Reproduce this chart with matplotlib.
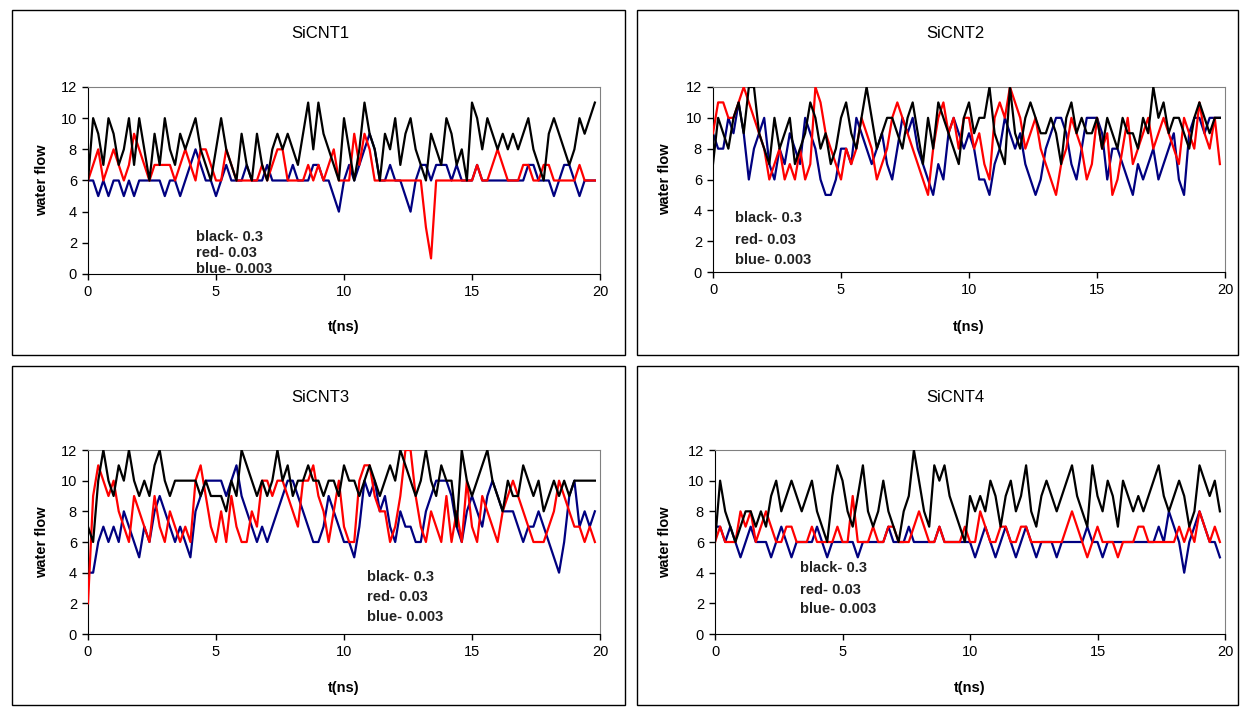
"""Four-panel water flow traces for SiCNT1..SiCNT4."""
import matplotlib
matplotlib.use('Agg')
import matplotlib.pyplot as plt
from matplotlib.patches import Rectangle
import numpy as np

plt.rcParams['font.family'] = ['Liberation Sans', 'DejaVu Sans']

BLACK = '#000000'
RED = '#FF0000'
BLUE = '#000080'
DT = 0.2  # ns between samples

titles = ['SiCNT1', 'SiCNT2', 'SiCNT3', 'SiCNT4']
notes = ['black- 0.3', 'red- 0.03', 'blue- 0.003']

# ── data (one sample per 0.2 ns) ──
black1 = [6, 10, 9, 7, 10, 9, 7, 8, 10, 7, 10, 8, 6, 9, 7, 10, 8, 7, 9, 8, 9, 10, 8, 7, 6,
          8, 10, 8, 7, 6, 9, 7, 6, 9, 7, 6, 8, 9, 8, 9, 8, 7, 9, 11, 8, 11, 9, 8, 7, 6,
          10, 8, 6, 8, 11, 9, 8, 6, 9, 8, 10, 7, 9, 10, 8, 7, 6, 9, 8, 7, 10, 9, 7, 8, 6,
          11, 10, 8, 10, 9, 8, 9, 8, 9, 8, 9, 10, 8, 7, 6, 9, 10, 9, 8, 7, 8, 10, 9, 10, 11]
red1 = [6, 7, 8, 6, 7, 8, 7, 6, 7, 9, 8, 7, 6, 7, 7, 7, 7, 6, 7, 8, 7, 6, 8, 8, 7,
        6, 6, 8, 7, 6, 6, 6, 6, 6, 7, 6, 7, 8, 8, 6, 6, 6, 6, 7, 6, 7, 6, 7, 8, 6,
        6, 6, 9, 7, 9, 8, 6, 6, 6, 6, 6, 6, 6, 6, 6, 6, 3, 1, 6, 6, 6, 6, 6, 6, 6,
        6, 7, 6, 6, 7, 8, 7, 6, 6, 6, 7, 7, 6, 6, 7, 7, 6, 6, 6, 6, 6, 7, 6, 6, 6]
blue1 = [6, 6, 5, 6, 5, 6, 6, 5, 6, 5, 6, 6, 6, 6, 6, 5, 6, 6, 5, 6, 7, 8, 7, 6, 6,
         5, 6, 7, 6, 6, 6, 7, 6, 6, 6, 7, 6, 6, 6, 6, 7, 6, 6, 6, 7, 7, 6, 6, 5, 4,
         6, 7, 6, 7, 8, 9, 8, 6, 6, 7, 6, 6, 5, 4, 6, 7, 7, 6, 7, 7, 7, 6, 7, 6, 6,
         6, 7, 6, 6, 6, 6, 6, 6, 6, 6, 6, 7, 7, 6, 6, 6, 5, 6, 7, 7, 6, 5, 6, 6, 6]

black2 = [7, 10, 9, 8, 10, 11, 9, 12, 12, 9, 8, 7, 10, 8, 9, 10, 7, 8, 9, 11, 10, 8, 9, 7, 8,
          10, 11, 9, 8, 10, 12, 10, 8, 9, 10, 10, 9, 8, 10, 11, 9, 7, 10, 8, 11, 10, 9, 8, 7, 10,
          11, 9, 10, 10, 12, 9, 8, 7, 12, 9, 8, 10, 11, 10, 9, 9, 10, 9, 7, 10, 11, 9, 10, 9, 9,
          10, 8, 10, 9, 8, 10, 9, 9, 8, 10, 9, 12, 10, 11, 9, 10, 10, 9, 8, 10, 11, 10, 9, 10, 10]
red2 = [9, 11, 11, 10, 10, 11, 12, 11, 10, 9, 8, 6, 7, 8, 6, 7, 6, 8, 6, 7, 12, 11, 9, 8, 7,
        6, 8, 7, 8, 10, 9, 8, 6, 7, 8, 10, 11, 10, 9, 8, 7, 6, 5, 8, 10, 11, 9, 10, 8, 10,
        10, 8, 9, 7, 6, 10, 11, 10, 12, 11, 10, 8, 9, 10, 8, 7, 6, 5, 7, 8, 10, 9, 8, 6, 7,
        10, 8, 9, 5, 6, 8, 10, 7, 8, 9, 10, 8, 9, 10, 9, 8, 7, 10, 9, 8, 11, 9, 8, 10, 7]
blue2 = [9, 8, 8, 10, 9, 11, 9, 6, 8, 9, 10, 7, 6, 8, 7, 9, 8, 7, 10, 9, 8, 6, 5, 5, 6,
         8, 8, 7, 10, 9, 8, 7, 8, 9, 7, 6, 8, 10, 9, 10, 8, 7, 6, 5, 7, 6, 9, 10, 9, 8,
         9, 8, 6, 6, 5, 7, 8, 10, 9, 8, 9, 7, 6, 5, 6, 8, 9, 10, 10, 9, 7, 6, 8, 10, 10,
         10, 9, 6, 8, 8, 7, 6, 5, 7, 6, 7, 8, 6, 7, 8, 9, 6, 5, 9, 10, 10, 9, 10, 10, 10]

black3 = [7, 6, 10, 12, 10, 9, 11, 10, 12, 10, 9, 10, 9, 11, 12, 10, 9, 10, 10, 10, 10, 10, 9, 10, 9,
          9, 9, 8, 10, 9, 12, 11, 10, 9, 10, 9, 10, 12, 10, 11, 9, 10, 10, 11, 10, 10, 9, 10, 10, 9,
          11, 10, 10, 9, 10, 11, 10, 9, 10, 11, 10, 12, 11, 10, 9, 10, 12, 10, 9, 11, 10, 10, 7, 12, 10,
          9, 10, 11, 12, 10, 9, 8, 10, 9, 9, 11, 10, 9, 10, 8, 9, 10, 9, 10, 9, 10, 10, 10, 10, 10]
red3 = [2, 9, 11, 10, 9, 10, 8, 7, 6, 9, 8, 7, 6, 9, 7, 6, 8, 7, 6, 7, 6, 10, 11, 9, 7,
        6, 8, 6, 9, 7, 6, 6, 8, 7, 10, 10, 9, 10, 10, 9, 8, 7, 10, 10, 11, 9, 8, 6, 8, 10,
        7, 6, 6, 10, 11, 11, 9, 8, 8, 6, 7, 9, 12, 12, 9, 7, 6, 8, 7, 6, 9, 6, 8, 6, 10,
        7, 6, 9, 8, 7, 6, 8, 9, 10, 9, 8, 7, 6, 6, 6, 7, 8, 10, 9, 8, 7, 7, 6, 7, 6]
blue3 = [4, 4, 6, 7, 6, 7, 6, 8, 7, 6, 5, 7, 6, 8, 9, 8, 7, 6, 7, 6, 5, 8, 9, 10, 10,
         10, 10, 9, 10, 11, 9, 8, 7, 6, 7, 6, 7, 8, 9, 10, 10, 9, 8, 7, 6, 6, 7, 9, 8, 7,
         6, 6, 5, 7, 10, 9, 10, 8, 9, 7, 6, 8, 7, 7, 6, 6, 8, 9, 10, 10, 10, 9, 7, 6, 8,
         9, 8, 7, 9, 10, 9, 8, 8, 8, 7, 6, 7, 7, 8, 7, 6, 5, 4, 6, 9, 10, 7, 8, 7, 8]

black4 = [6, 10, 8, 7, 6, 7, 8, 8, 7, 8, 7, 9, 10, 8, 9, 10, 9, 8, 9, 10, 8, 7, 6, 9, 11,
          10, 8, 7, 9, 11, 8, 7, 8, 10, 8, 7, 6, 8, 9, 12, 10, 8, 7, 11, 10, 11, 9, 8, 7, 6,
          9, 8, 9, 8, 10, 9, 7, 9, 10, 8, 9, 11, 8, 7, 9, 10, 9, 8, 9, 10, 11, 9, 8, 7, 11,
          9, 8, 10, 9, 7, 10, 9, 8, 9, 8, 9, 10, 11, 9, 8, 9, 10, 9, 7, 8, 11, 10, 9, 10, 8]
red4 = [6, 7, 6, 6, 6, 8, 7, 8, 6, 7, 8, 7, 6, 6, 7, 7, 6, 6, 6, 7, 6, 6, 6, 6, 7,
        6, 6, 9, 6, 6, 6, 7, 6, 6, 7, 7, 6, 6, 6, 7, 8, 7, 6, 6, 7, 6, 6, 6, 6, 7,
        6, 6, 8, 7, 6, 6, 7, 7, 6, 6, 7, 7, 6, 6, 6, 6, 6, 6, 6, 7, 8, 7, 6, 5, 6,
        7, 6, 6, 6, 5, 6, 6, 6, 7, 7, 6, 6, 6, 6, 6, 6, 7, 6, 7, 6, 8, 7, 6, 7, 6]
blue4 = [7, 7, 6, 7, 6, 5, 6, 7, 6, 6, 6, 5, 6, 7, 6, 5, 6, 6, 6, 6, 7, 6, 5, 6, 6,
         6, 6, 6, 5, 6, 6, 6, 6, 6, 7, 6, 6, 6, 7, 6, 6, 6, 6, 6, 7, 6, 6, 6, 6, 6,
         6, 5, 6, 7, 6, 5, 6, 7, 6, 5, 6, 7, 6, 5, 6, 6, 6, 5, 6, 6, 6, 6, 6, 7, 6,
         6, 5, 6, 6, 6, 6, 6, 6, 6, 6, 6, 6, 7, 6, 8, 7, 6, 4, 6, 7, 8, 7, 6, 6, 5]

blacks = [black1, black2, black3, black4]
reds = [red1, red2, red3, red4]
blues = [blue1, blue2, blue3, blue4]

# ── layout, in pixels of the 1240x708 canvas ──
W, H = 1240, 708
frames = [(12, 10, 625, 355), (637, 10, 1238, 355),
          (12, 366, 625, 705), (637, 366, 1238, 705)]
plots = [(88, 87, 600, 274), (713, 87, 1225, 272),
         (88, 450, 600, 634), (715, 450, 1225, 634)]
title_xy = [(320, 33), (955, 33), (320, 397), (955, 397)]
xlab_y = [327, 327, 688, 688]
ylab_x = [42, 665, 42, 665]
note_pos = [(4.2, [2.4, 1.35, 0.3]), (0.86, [3.5, 2.1, 0.8]),
            (10.9, [3.7, 2.4, 1.1]), (3.33, [4.3, 2.9, 1.6])]

fig = plt.figure(figsize=(W / 100, H / 100), dpi=100, facecolor='white')

for i in range(4):
    x0, y0, x1, y1 = frames[i]
    fig.patches.append(Rectangle((x0 / W, 1 - y1 / H), (x1 - x0) / W, (y1 - y0) / H,
                                 transform=fig.transFigure, fill=False,
                                 edgecolor='black', linewidth=1.0))

    px0, py0, px1, py1 = plots[i]
    ax = fig.add_axes([px0 / W, 1 - py1 / H, (px1 - px0) / W, (py1 - py0) / H])

    for vals, color, z in [(blues[i], BLUE, 2), (reds[i], RED, 3), (blacks[i], BLACK, 4)]:
        t = np.arange(len(vals)) * DT
        ax.plot(t, vals, color=color, lw=1.6, zorder=z, solid_joinstyle='round')

    ax.set_xlim(0, 20)
    ax.set_ylim(0, 12)
    ax.set_xticks([0, 5, 10, 15, 20])
    ax.set_yticks(range(0, 13, 2))
    ax.tick_params(direction='out', length=4, width=1, labelsize=10.5, pad=4)
    for side in ['top', 'right']:
        ax.spines[side].set_color('#808080')
    for side in ['left', 'bottom']:
        ax.spines[side].set_color('black')

    nx, nys = note_pos[i]
    for txt, ny in zip(notes, nys):
        ax.text(nx, ny, txt, ha='left', va='center', fontsize=10.5, fontweight='bold',
                fontstretch='condensed', family=['Liberation Sans Narrow', 'Liberation Sans'],
                color='#222222', zorder=6)

    tx, ty = title_xy[i]
    fig.text(tx / W, 1 - ty / H, titles[i], ha='center', va='center', fontsize=12)
    fig.text((px0 + px1) / 2 / W, 1 - xlab_y[i] / H, 't(ns)', ha='center', va='center',
             fontsize=10.5, fontweight='bold',
             family=['Liberation Sans Narrow', 'Liberation Sans'])
    fig.text(ylab_x[i] / W, 1 - (py0 + py1) / 2 / H, 'water flow', ha='center', va='center',
             rotation=90, fontsize=10.5, fontweight='bold',
             family=['Liberation Sans Narrow', 'Liberation Sans'])

fig.savefig('out.png', dpi=100, facecolor='white')
plt.close()
